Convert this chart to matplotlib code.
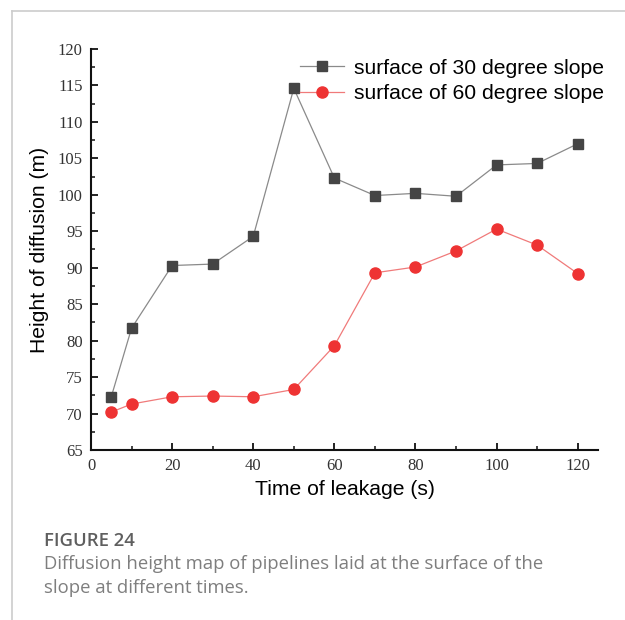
import matplotlib
matplotlib.use("Agg")
import matplotlib.pyplot as plt
from matplotlib.lines import Line2D
from matplotlib.ticker import MultipleLocator

# Leakage time (s) and diffusion height (m)
time_s = [5, 10, 20, 30, 40, 50, 60, 70, 80, 90, 100, 110, 120]
height_30deg = [72.3, 81.7, 90.3, 90.5, 94.3, 114.6, 102.3, 99.9, 100.2, 99.8, 104.1, 104.3, 107.0]
height_60deg = [70.2, 71.3, 72.3, 72.4, 72.3, 73.3, 79.3, 89.3, 90.1, 92.3, 95.3, 93.1, 89.2]

label_30 = "surface of 30 degree slope"
label_60 = "surface of 60 degree slope"
x_label = "Time of leakage (s)"
y_label = "Height of diffusion (m)"
fig_title = "FIGURE 24"
caption_lines = ["Diffusion height map of pipelines laid at the surface of the",
                 "slope at different times."]

# tick numbers use a serif face
plt.rcParams["font.family"] = ["Liberation Serif", "DejaVu Serif"]

fig = plt.figure(figsize=(6.25, 6.2), dpi=100)
ax = fig.add_axes([0.1456, 0.2742, 0.8112, 0.6468])

ax.plot(time_s, height_30deg, color="#8a8a8a", lw=0.9, marker="s", ms=7.5,
        mfc="#454545", mec="#454545", label=label_30)
ax.plot(time_s, height_60deg, color="#f07a7a", lw=0.9, marker="o", ms=8,
        mfc="#ee3333", mec="#ee3333", label=label_60)

ax.set_xlim(0, 125)
ax.set_ylim(65, 120)
ax.xaxis.set_major_locator(MultipleLocator(20))
ax.xaxis.set_minor_locator(MultipleLocator(10))
ax.yaxis.set_major_locator(MultipleLocator(5))
ax.yaxis.set_minor_locator(MultipleLocator(2.5))

for side in ("top", "right"):
    ax.spines[side].set_visible(False)
for side in ("left", "bottom"):
    ax.spines[side].set_linewidth(1.5)
    ax.spines[side].set_color("#111111")

ax.tick_params(which="major", direction="in", length=5, width=1.3, colors="#111111",
               labelsize=12, labelcolor="#333333", pad=6)
ax.tick_params(which="minor", direction="in", length=3, width=1.1, colors="#111111")

ax.set_xlabel(x_label, fontsize=15.2, family="Liberation Sans", labelpad=4)
ax.set_ylabel(y_label, fontsize=15.2, family="Liberation Sans", labelpad=6)

leg = ax.legend(loc="upper right", bbox_to_anchor=(1.028, 0.997), frameon=False,
                prop={"family": "Liberation Sans", "size": 15.2},
                handlelength=2.1, handletextpad=0.45, labelspacing=0.3,
                borderaxespad=0.0)

# Caption panel border
fig.add_artist(Line2D([12 / 625, 12 / 625], [0, 1 - 11 / 620], color="#cccccc", lw=1.2))
fig.add_artist(Line2D([12 / 625, 1], [1 - 11 / 620, 1 - 11 / 620], color="#cccccc", lw=1.2))

fig.text(44 / 625, 1 - 541 / 620, fig_title, fontsize=13.3, family="Open Sans",
         weight="semibold", color="#5f5f5f", va="center")
for i, line in enumerate(caption_lines):
    fig.text(44 / 625, 1 - (564 + 24 * i) / 620, line, fontsize=13.3, family="Open Sans",
             color="#7e7e7e", va="center")

fig.savefig("out.png", dpi=100)
